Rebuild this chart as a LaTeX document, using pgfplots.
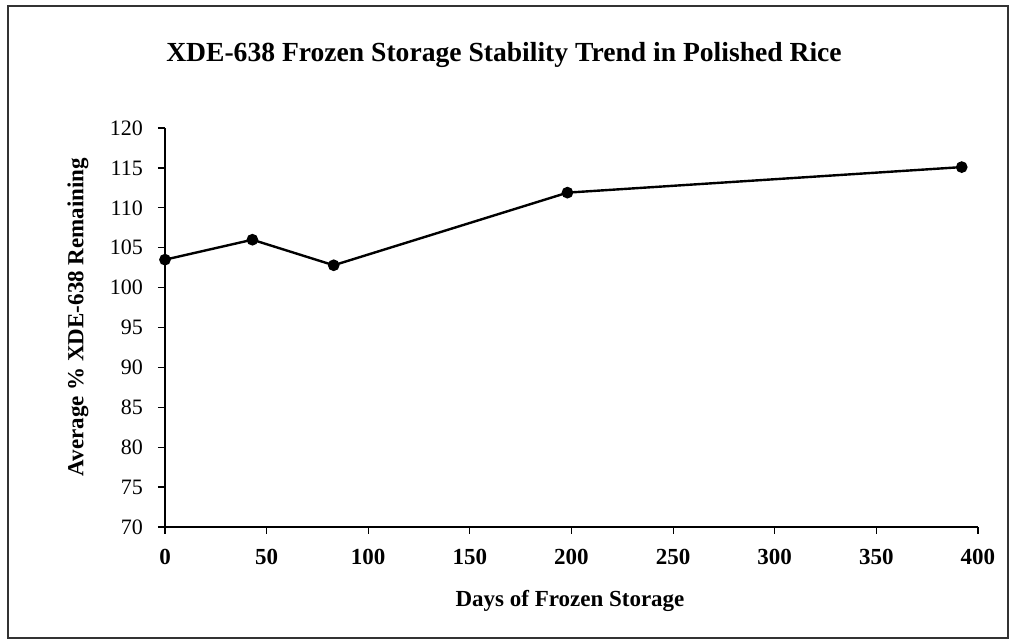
\documentclass[border=0pt]{standalone}
\usepackage{pgfplots}
\pgfplotsset{compat=1.18}
\usepackage{fontspec}
\setmainfont{Liberation Serif}
\begin{document}
\begin{tikzpicture}[x=1pt,y=1pt]
\useasboundingbox (0,0) rectangle (506,321);
\draw[line width=0.8pt, black!80] (4,2) rectangle (504,318);
\begin{axis}[
  at={(82.5pt,57.5pt)}, anchor=origin,
  scale only axis, width=406.5pt, height=199.5pt,
  xmin=0, xmax=400, ymin=70, ymax=120,
  xtick={0,50,...,400}, ytick={70,75,...,120},
  axis x line=bottom, axis y line=left,
  axis line style={-, line width=0.8pt},
  x axis line style={line width=1pt},
  tick style={black, line width=0.6pt},
  major tick length=3.5pt,
  tick align=outside,
  /pgf/number format/assume math mode=true,
  xticklabel style={font=\fontsize{11.5}{12}\selectfont\bfseries, yshift=-4pt},
  yticklabel style={font=\fontsize{11}{12}\selectfont, xshift=-4pt},
  clip=false,
]
\addplot[black, line width=1.2pt, mark=*, mark size=2.3pt] coordinates {
  (0,103.5) (43,106) (83,102.8) (198,111.9) (392,115.1)
};
\end{axis}
\node[font=\fontsize{13.8}{15}\selectfont\bfseries] at (252,293.5) {XDE-638 Frozen Storage Stability Trend in Polished Rice};
\node[font=\fontsize{11.5}{13}\selectfont\bfseries, rotate=90] at (39,162.5) {Average \% XDE-638 Remaining};
\node[font=\fontsize{11.5}{13}\selectfont\bfseries] at (285,20.5) {Days of Frozen Storage};
\end{tikzpicture}
\end{document}
